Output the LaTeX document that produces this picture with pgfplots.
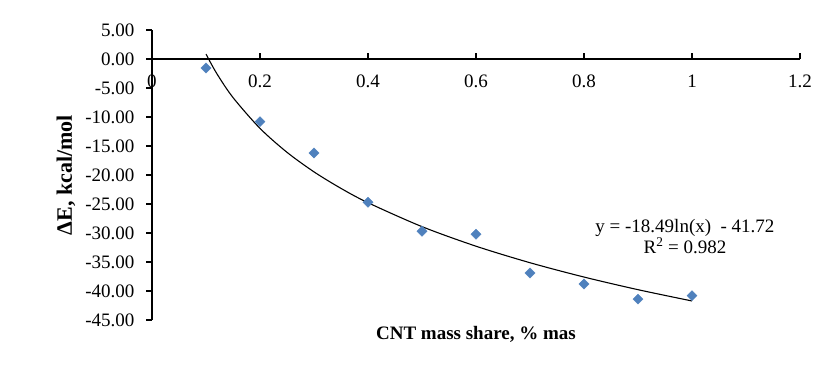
\documentclass[border=0pt]{standalone}
\usepackage{fontspec}
\setmainfont{Liberation Serif}
\usepackage{pgfplots}
\pgfplotsset{compat=1.18}
\definecolor{markblue}{HTML}{4F81BD}

\begin{document}
\fontsize{19bp}{22bp}\selectfont
\begin{tikzpicture}
\begin{axis}[
    scale only axis,
    width=648bp, height=290bp,
    xmin=0, xmax=1.2,
    ymin=-45, ymax=5,
    axis x line=middle,
    axis y line=left,
    axis line style={line width=1.6pt, -},
    xtick={0,0.2,0.4,0.6,0.8,1,1.2},
    xticklabels={0,0.2,0.4,0.6,0.8,1,1.2},
    ytick={-45,-40,-35,-30,-25,-20,-15,-10,-5,0,5},
    xtick align=inside,
    ytick align=outside,
    major tick length=6bp,
    tick style={line width=1.2pt, black},
    hide obscured x ticks=false,
    tick label style={font=\fontsize{19bp}{22bp}\selectfont},
    x tick label style={anchor=north, yshift=-9bp},
    y tick label style={xshift=-5bp, /pgf/number format/.cd, fixed, fixed zerofill, precision=2, assume math mode=true},
    every axis x label/.style={at={(axis description cs:0.5,0)}, anchor=center, yshift=-14bp},
    every axis y label/.style={at={([xshift=-86bp]axis description cs:0,0.5)}, rotate=90, anchor=center,
        font=\fontsize{22bp}{24bp}\selectfont},
    xlabel={\bfseries CNT mass share, \% mas},
    ylabel={\bfseries ΔE, kcal/mol},
    clip=false,
]

% logarithmic trendline, sampled from the displayed fit
\addplot[black, line width=1.1pt, smooth, no marks] coordinates {
    (0.1,0.855) (0.12,-2.516) (0.15,-6.642) (0.2,-11.961) (0.25,-16.087)
    (0.3,-19.459) (0.35,-22.309) (0.4,-24.778) (0.5,-28.904) (0.6,-32.275)
    (0.7,-35.125) (0.8,-37.594) (0.9,-39.772) (1.0,-41.72)
};

\addplot[only marks, mark=square*, mark size=3.6pt,
    mark options={rotate=45, fill=markblue, draw=markblue}] coordinates {
    (0.1,-1.55) (0.2,-10.8) (0.3,-16.2) (0.4,-24.7) (0.5,-29.7)
    (0.6,-30.2) (0.7,-36.9) (0.8,-38.8) (0.9,-41.4) (1.0,-40.8)
};

\node[align=center, font=\fontsize{19bp}{19bp}\selectfont] at (axis cs:0.987,-30.6)
    {y = -18.49ln(x)~~- 41.72\\R\textsuperscript{2} = 0.982};

\coordinate (sw) at (rel axis cs:0,0);
\coordinate (ne) at (rel axis cs:1,1);
\end{axis}
\pgfresetboundingbox
\path[use as bounding box] ([xshift=-152bp,yshift=-51bp]sw) rectangle ([xshift=25bp,yshift=30bp]ne);
\end{tikzpicture}
\end{document}
